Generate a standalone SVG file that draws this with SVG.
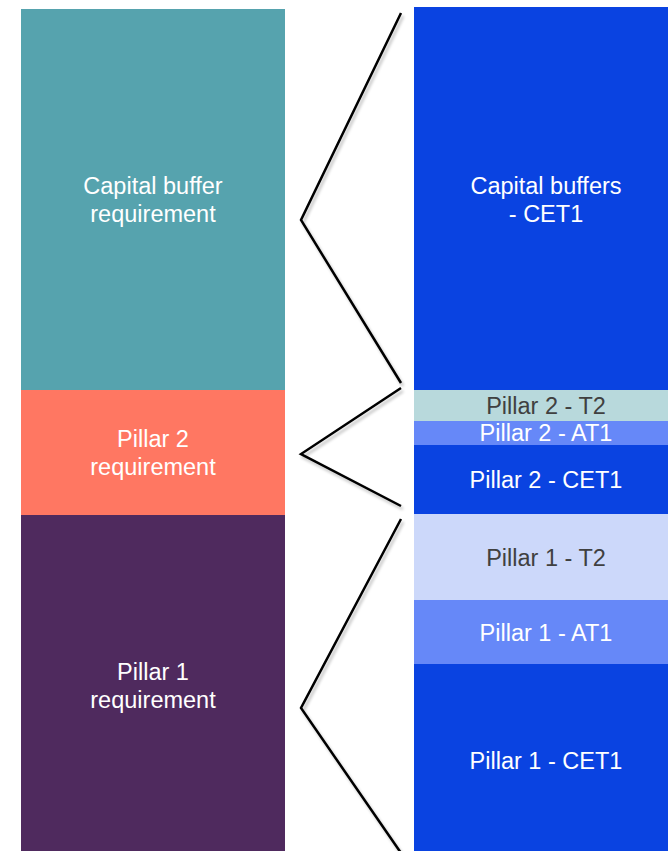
<svg xmlns="http://www.w3.org/2000/svg" width="668" height="851" viewBox="0 0 668 851">
<defs>
<style>
text{font-family:"Liberation Sans",Arial,sans-serif;font-size:23.5px;text-anchor:middle;fill:#fff}
.dark{fill:#404040}
.br{fill:none;stroke:#000;stroke-width:2.5;stroke-linejoin:miter;filter:url(#sh)}
</style>
<filter id="sh" x="-20%" y="-20%" width="140%" height="140%">
<feGaussianBlur in="SourceAlpha" stdDeviation="1.5"/>
<feOffset dx="2" dy="3" result="b"/>
<feComponentTransfer><feFuncA type="linear" slope="0.25"/></feComponentTransfer>
<feMerge><feMergeNode/><feMergeNode in="SourceGraphic"/></feMerge>
</filter>
</defs>
<rect width="668" height="851" fill="#fff"/>
<g id="capital-buffer-requirement">
<rect x="21" y="9" width="264" height="381" fill="#56A3AE"/>
<text x="153" y="194">Capital buffer</text>
<text x="153" y="222">requirement</text>
</g>
<g id="pillar2-requirement">
<rect x="21" y="390" width="264" height="125" fill="#FF7762"/>
<text x="153" y="447">Pillar 2</text>
<text x="153" y="475">requirement</text>
</g>
<g id="pillar1-requirement">
<rect x="21" y="515" width="264" height="336" fill="#4F2A5E"/>
<text x="153" y="680">Pillar 1</text>
<text x="153" y="708">requirement</text>
</g>
<g id="capital-buffers-cet1">
<rect x="414" y="7" width="254" height="383" fill="#0A43E1"/>
<text x="546" y="194">Capital buffers</text>
<text x="546" y="222">- CET1</text>
</g>
<g id="pillar2-t2">
<rect x="414" y="390" width="254" height="31" fill="#B8D9DC"/>
<text class="dark" x="546" y="414">Pillar 2 - T2</text>
</g>
<g id="pillar2-at1">
<rect x="414" y="421" width="254" height="24" fill="#6688F8"/>
<text x="546" y="441">Pillar 2 - AT1</text>
</g>
<g id="pillar2-cet1">
<rect x="414" y="445" width="254" height="69" fill="#0A43E1"/>
<text x="546" y="488">Pillar 2 - CET1</text>
</g>
<g id="pillar1-t2">
<rect x="414" y="514" width="254" height="86" fill="#CCD8FA"/>
<text class="dark" x="546" y="566">Pillar 1 - T2</text>
</g>
<g id="pillar1-at1">
<rect x="414" y="600" width="254" height="64" fill="#6688F8"/>
<text x="546" y="641">Pillar 1 - AT1</text>
</g>
<g id="pillar1-cet1">
<rect x="414" y="664" width="254" height="187" fill="#0A43E1"/>
<text x="546" y="769">Pillar 1 - CET1</text>
</g>
<g id="connectors">
<polyline class="br" points="401,13 301,220 401,383"/>
<polyline class="br" points="401,388 301,454 401,506"/>
<polyline class="br" points="401,519 301,708 401,853"/>
</g>
</svg>
